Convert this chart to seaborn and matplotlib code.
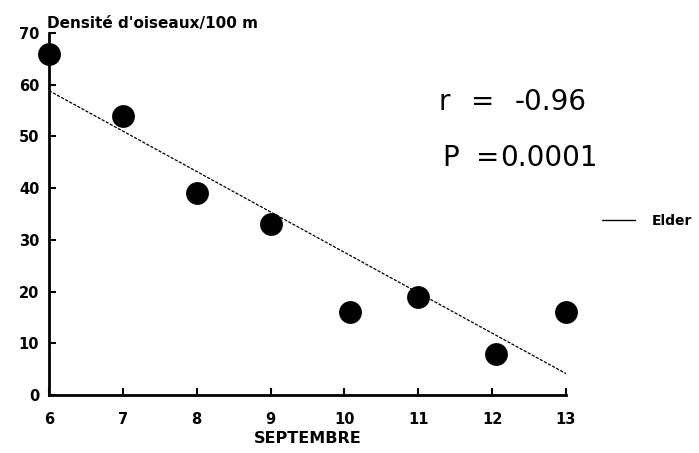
import matplotlib
matplotlib.use("Agg")
import matplotlib.pyplot as plt
from matplotlib.lines import Line2D
import numpy as np
import pandas as pd
import seaborn as sns

# Daily bird density along the transect, September
days = [6, 7, 8, 9, 10.08, 11, 12.05, 13]
density = [66, 54, 39, 33, 16, 19, 8, 16]
x_ticks = [6, 7, 8, 9, 10, 11, 12, 13]
y_ticks = [0, 10, 20, 30, 40, 50, 60, 70]
series_name = "Elder"

df = pd.DataFrame({"jour": days, "densite": density})

sns.set_style("white")
plt.rcParams["font.family"] = ["DejaVu Sans"]
plt.rcParams.update({"text.color": "black", "axes.labelcolor": "black",
                     "xtick.color": "black", "ytick.color": "black"})

fig = plt.figure(figsize=(6.99, 4.53), dpi=100)
ax = fig.add_axes([0.0701, 0.128, 0.7396, 0.799])

# Least-squares trend line
sns.regplot(data=df, x="jour", y="densite", scatter=False, ci=None, ax=ax,
            line_kws=dict(color="black", lw=0.9, ls=(0, (2.5, 1.2))))

sns.scatterplot(data=df, x="jour", y="densite", ax=ax, s=270, color="black",
                edgecolor="black", linewidth=0, clip_on=False, zorder=5)

ax.set_xlim(6, 13)
ax.set_ylim(0, 70)
ax.set_xticks(x_ticks)
ax.set_yticks(y_ticks)
ax.set_xticklabels([str(t) for t in x_ticks], fontweight="bold", fontsize=10.5)
ax.set_yticklabels([str(t) for t in y_ticks], fontweight="bold", fontsize=10.5)
ax.tick_params(axis="y", direction="in", length=5, width=1.5, pad=7, left=True)
ax.tick_params(axis="x", direction="in", length=5, width=1.5, pad=12, bottom=True)

for side in ("top", "right"):
    ax.spines[side].set_visible(False)
for side in ("left", "bottom"):
    ax.spines[side].set_linewidth(2)
    ax.spines[side].set_color("black")

ax.set_xlabel("SEPTEMBRE", fontweight="bold", fontsize=11.5, labelpad=3)
ax.set_ylabel("")
fig.text(0.067, 0.949, "Densité d'oiseaux/100 m", fontweight="bold",
         fontsize=11, ha="left", va="center")

# Correlation statistics
stat_kw = dict(fontsize=20, va="center")
fig.text(0.627, 0.775, "r", ha="left", **stat_kw)
fig.text(0.690, 0.775, "=", ha="center", **stat_kw)
fig.text(0.736, 0.775, "-0.96", ha="left", **stat_kw)
fig.text(0.632, 0.651, "P", ha="left", **stat_kw)
fig.text(0.698, 0.651, "=", ha="center", **stat_kw)
fig.text(0.716, 0.651, "0.0001", ha="left", **stat_kw)

handle = Line2D([], [], color="black", lw=1.0)
ax.legend([handle], [series_name], loc="center left",
          bbox_to_anchor=(0.861, 0.512), bbox_transform=fig.transFigure,
          frameon=False, borderpad=0, borderaxespad=0,
          handlelength=2.4, handletextpad=1.2,
          prop=dict(weight="bold", size=10))

fig.savefig("out.png", dpi=100)
